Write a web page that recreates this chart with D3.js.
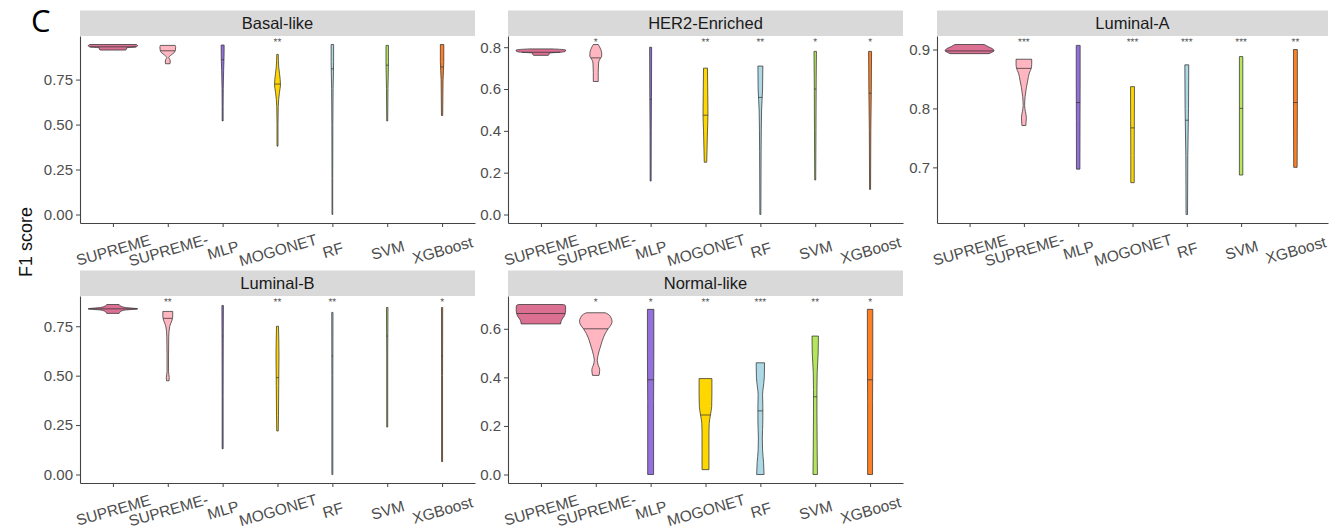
<!DOCTYPE html>
<html>
<head>
<meta charset="utf-8">
<script src="https://cdn.jsdelivr.net/npm/d3@7"></script>
<style>
  html, body { margin: 0; padding: 0; background: #ffffff; }
  svg { display: block; font-family: "Liberation Sans", Arial, sans-serif; }
</style>
</head>
<body>
<svg id="chart" width="1336" height="532"></svg>
<script>
// ---- categories ----
const methods = ["SUPREME", "SUPREME-", "MLP", "MOGONET", "RF", "SVM", "XGBoost"];
const subtypes = ["Basal-like", "HER2-Enriched", "Luminal-A", "Luminal-B", "Normal-like"];

// ---- violin outlines: [F1 score, relative density] from top to bottom ----
const basalViolins = [
  [[0.945, 0.95], [0.938, 1.0], [0.931, 0.92], [0.927, 0.56], [0.92, 0.55], [0.914, 0.52]],
  [[0.940, 0.30], [0.930, 0.32], [0.915, 0.31], [0.900, 0.26], [0.885, 0.12], [0.872, 0.04], [0.860, 0.09], [0.848, 0.10], [0.838, 0.09]],
  [[0.942, 0.06], [0.900, 0.06], [0.800, 0.04], [0.700, 0.025], [0.600, 0.02], [0.520, 0.02]],
  [[0.890, 0.03], [0.820, 0.05], [0.750, 0.11], [0.720, 0.12], [0.680, 0.08], [0.600, 0.03], [0.500, 0.02], [0.380, 0.02]],
  [[0.945, 0.05], [0.850, 0.05], [0.700, 0.03], [0.500, 0.02], [0.200, 0.015], [0.000, 0.015]],
  [[0.940, 0.05], [0.850, 0.05], [0.700, 0.03], [0.520, 0.02]],
  [[0.945, 0.07], [0.850, 0.07], [0.750, 0.04], [0.550, 0.025]]
];
const basalMedians = [0.932, 0.910, 0.860, 0.725, 0.810, 0.830, 0.820];
const basalStars = ["", "", "", "**", "", "", ""];
const basalTicks = [0, 0.25, 0.5, 0.75];

const her2Violins = [
  [[0.792, 0.45], [0.787, 1.0], [0.782, 1.0], [0.777, 0.88], [0.772, 0.34], [0.766, 0.33], [0.761, 0.30]],
  [[0.813, 0.10], [0.790, 0.20], [0.770, 0.24], [0.757, 0.24], [0.745, 0.18], [0.730, 0.12], [0.715, 0.11], [0.680, 0.10], [0.636, 0.10]],
  [[0.800, 0.04], [0.600, 0.035], [0.400, 0.025], [0.160, 0.02]],
  [[0.700, 0.08], [0.600, 0.09], [0.480, 0.10], [0.400, 0.08], [0.300, 0.06], [0.250, 0.05]],
  [[0.710, 0.10], [0.600, 0.09], [0.500, 0.05], [0.300, 0.03], [0.000, 0.02]],
  [[0.780, 0.05], [0.650, 0.04], [0.400, 0.03], [0.165, 0.02]],
  [[0.780, 0.06], [0.600, 0.05], [0.400, 0.03], [0.120, 0.02]]
];
const her2Medians = [0.776, 0.749, 0.550, 0.475, 0.560, 0.600, 0.580];
const her2Stars = ["", "*", "", "**", "**", "*", "*"];
const her2Ticks = [0, 0.2, 0.4, 0.6, 0.8];

const lumAViolins = [
  [[0.9085, 0.60], [0.905, 0.75], [0.901, 0.95], [0.898, 1.0], [0.895, 0.90], [0.893, 0.80]],
  [[0.8835, 0.32], [0.875, 0.32], [0.868, 0.30], [0.860, 0.22], [0.848, 0.16], [0.835, 0.10], [0.820, 0.05], [0.805, 0.03], [0.795, 0.06], [0.785, 0.10], [0.777, 0.09], [0.771, 0.08]],
  [[0.907, 0.08], [0.850, 0.08], [0.780, 0.075], [0.697, 0.07]],
  [[0.837, 0.08], [0.780, 0.075], [0.720, 0.07], [0.674, 0.07]],
  [[0.874, 0.08], [0.800, 0.07], [0.720, 0.04], [0.620, 0.03]],
  [[0.888, 0.07], [0.800, 0.07], [0.687, 0.07]],
  [[0.900, 0.08], [0.800, 0.08], [0.700, 0.07]]
];
const lumAMedians = [0.8976, 0.868, 0.810, 0.767, 0.780, 0.800, 0.810];
const lumAStars = ["", "***", "", "***", "***", "***", "**"];
const lumATicks = [0.7, 0.8, 0.9];

const lumBViolins = [
  [[0.860, 0.25], [0.852, 0.32], [0.845, 0.50], [0.838, 1.0], [0.832, 0.50], [0.825, 0.32], [0.815, 0.25]],
  [[0.825, 0.20], [0.800, 0.20], [0.780, 0.17], [0.750, 0.08], [0.700, 0.04], [0.600, 0.03], [0.520, 0.03], [0.490, 0.06], [0.474, 0.05]],
  [[0.855, 0.03], [0.700, 0.025], [0.400, 0.02], [0.130, 0.02]],
  [[0.750, 0.04], [0.600, 0.06], [0.450, 0.05], [0.300, 0.04], [0.220, 0.03]],
  [[0.820, 0.025], [0.500, 0.02], [0.000, 0.02]],
  [[0.845, 0.03], [0.600, 0.02], [0.240, 0.02]],
  [[0.845, 0.025], [0.500, 0.02], [0.065, 0.02]]
];
const lumBMedians = [0.838, 0.790, 0.700, 0.490, 0.600, 0.700, 0.600];
const lumBStars = ["", "**", "", "**", "**", "", "*"];
const lumBTicks = [0, 0.25, 0.5, 0.75];

const normalViolins = [
  [[0.700, 0.90], [0.697, 0.98], [0.690, 1.0], [0.675, 1.0], [0.662, 0.98], [0.650, 0.93], [0.640, 0.86], [0.628, 0.81], [0.620, 0.80]],
  [[0.666, 0.38], [0.660, 0.50], [0.645, 0.62], [0.630, 0.66], [0.615, 0.61], [0.600, 0.50], [0.580, 0.38], [0.550, 0.26], [0.520, 0.17], [0.490, 0.09], [0.470, 0.06], [0.450, 0.10], [0.432, 0.16], [0.418, 0.15], [0.408, 0.13]],
  [[0.680, 0.13], [0.500, 0.13], [0.300, 0.12], [0.100, 0.12], [0.000, 0.12]],
  [[0.395, 0.26], [0.330, 0.26], [0.280, 0.25], [0.245, 0.20], [0.210, 0.15], [0.170, 0.14], [0.100, 0.14], [0.020, 0.14]],
  [[0.460, 0.17], [0.400, 0.16], [0.360, 0.12], [0.330, 0.09], [0.280, 0.10], [0.220, 0.10], [0.150, 0.08], [0.100, 0.09], [0.050, 0.13], [0.000, 0.15]],
  [[0.570, 0.13], [0.500, 0.12], [0.420, 0.08], [0.350, 0.07], [0.250, 0.07], [0.100, 0.08], [0.000, 0.09]],
  [[0.680, 0.11], [0.500, 0.11], [0.300, 0.10], [0.000, 0.10]]
];
const normalMedians = [0.663, 0.600, 0.390, 0.245, 0.262, 0.320, 0.390];
const normalStars = ["", "*", "*", "**", "***", "**", "*"];
const normalTicks = [0, 0.2, 0.4, 0.6];

// ---- styling ----
const fills = ["#DB7093", "#FFB6C1", "#9370DB", "#FFD700", "#ADD8E6", "#B4E55C", "#FF7F24"];
const outline = "#333333";
const axisColor = "#444444";
const textGrey = "#4d4d4d";

const panels = [
  { title: subtypes[0], violins: basalViolins,  medians: basalMedians,  stars: basalStars,  ticks: basalTicks,  fmt: ".2f" },
  { title: subtypes[1], violins: her2Violins,   medians: her2Medians,   stars: her2Stars,   ticks: her2Ticks,   fmt: ".1f" },
  { title: subtypes[2], violins: lumAViolins,   medians: lumAMedians,   stars: lumAStars,   ticks: lumATicks,   fmt: ".1f" },
  { title: subtypes[3], violins: lumBViolins,   medians: lumBMedians,   stars: lumBStars,   ticks: lumBTicks,   fmt: ".2f" },
  { title: subtypes[4], violins: normalViolins, medians: normalMedians, stars: normalStars, ticks: normalTicks, fmt: ".1f" }
];

// facet frames (plot area) and strip height
const frames = [
  { x: 80,  y: 36,  w: 395, h: 187 },
  { x: 508, y: 36,  w: 395, h: 187 },
  { x: 937, y: 36,  w: 391, h: 187 },
  { x: 80,  y: 296, w: 395, h: 187 },
  { x: 508, y: 296, w: 395, h: 187 }
];
const stripH = 25.5;

const svg = d3.select("#chart");

// linear read-out of the outline at a given score (for the median bar)
function densityAt(profile, v) {
  for (let i = 0; i < profile.length - 1; i++) {
    const a = profile[i], b = profile[i + 1];
    if (v <= a[0] && v >= b[0]) {
      const t = (a[0] - v) / (a[0] - b[0] || 1);
      return a[1] + t * (b[1] - a[1]);
    }
  }
  return profile[profile.length - 1][1];
}

panels.forEach((p, pi) => {
  const f = frames[pi];
  const g = svg.append("g");

  // y domain: data range with 5% expansion on both sides
  const allVals = p.violins.flat().map(d => d[0]);
  const lo = d3.min(allVals), hi = d3.max(allVals);
  const pad = (hi - lo) * 0.05;
  const y = d3.scaleLinear().domain([lo - pad, hi + pad]).range([f.y + f.h, f.y]);
  const x = d3.scalePoint().domain(methods).range([f.x, f.x + f.w]).padding(0.6);
  const halfW = d3.scaleLinear().domain([0, 1]).range([0, x.step() * 0.45]);

  // strip
  g.append("rect")
    .attr("x", f.x).attr("y", f.y - stripH)
    .attr("width", f.w).attr("height", stripH)
    .attr("fill", "#d9d9d9");
  g.append("text")
    .attr("x", f.x + f.w / 2).attr("y", f.y - stripH / 2)
    .attr("text-anchor", "middle").attr("dominant-baseline", "central")
    .attr("font-size", 16.5).attr("fill", "#1a1a1a")
    .text(p.title);

  // violins
  p.violins.forEach((prof, mi) => {
    const cx = x(methods[mi]);
    const area = d3.area()
      .curve(d3.curveMonotoneY)
      .y(d => y(d[0]))
      .x0(d => cx - halfW(d[1]))
      .x1(d => cx + halfW(d[1]));
    g.append("path")
      .attr("d", area(prof))
      .attr("fill", fills[mi])
      .attr("stroke", outline)
      .attr("stroke-width", 0.75)
      .attr("stroke-linejoin", "round");
    const m = p.medians[mi];
    const mw = halfW(densityAt(prof, m));
    g.append("line")
      .attr("x1", cx - mw).attr("x2", cx + mw)
      .attr("y1", y(m)).attr("y2", y(m))
      .attr("stroke", outline).attr("stroke-width", 0.75);

    // significance marks
    if (p.stars[mi]) {
      g.append("text")
        .attr("x", cx).attr("y", f.y + 9)
        .attr("text-anchor", "middle")
        .attr("font-size", 10).attr("fill", "#555")
        .style("text-rendering", "geometricPrecision")
        .text(p.stars[mi]);
    }
  });

  // y axis
  const yAxis = g.append("g")
    .attr("transform", `translate(${f.x},0)`)
    .call(d3.axisLeft(y).tickValues(p.ticks).tickFormat(d3.format(p.fmt)).tickSize(4).tickSizeOuter(0).tickPadding(3));
  yAxis.select(".domain").attr("stroke", axisColor).attr("stroke-width", 1.1);
  yAxis.selectAll(".tick line").attr("stroke", axisColor);
  yAxis.selectAll(".tick text").attr("fill", textGrey).attr("font-size", 15)
    .attr("font-family", "Liberation Sans, Arial, sans-serif");

  // x axis
  const xAxis = g.append("g")
    .attr("transform", `translate(0,${f.y + f.h})`)
    .call(d3.axisBottom(x).tickSize(4).tickSizeOuter(0));
  xAxis.select(".domain").attr("stroke", axisColor).attr("stroke-width", 1.1);
  xAxis.selectAll(".tick line").attr("stroke", axisColor);
  xAxis.selectAll(".tick text")
    .attr("fill", textGrey).attr("font-size", 15.5)
    .attr("font-family", "Liberation Sans, Arial, sans-serif")
    .attr("text-anchor", "middle")
    .attr("dy", null)
    .attr("y", 0)
    .attr("dominant-baseline", "central")
    .attr("transform", "translate(0,27) rotate(-16)");
});

// shared y title
svg.append("text")
  .attr("transform", "translate(26,242) rotate(-90)")
  .attr("text-anchor", "middle").attr("dominant-baseline", "central")
  .attr("font-size", 18).attr("fill", "#111")
  .text("F1 score");

// figure panel letter
svg.append("text")
  .attr("x", 31).attr("y", 32)
  .attr("font-size", 31).attr("fill", "#000")
  .attr("font-family", "Open Sans, Liberation Sans, sans-serif")
  .text("C");
</script>
</body>
</html>
